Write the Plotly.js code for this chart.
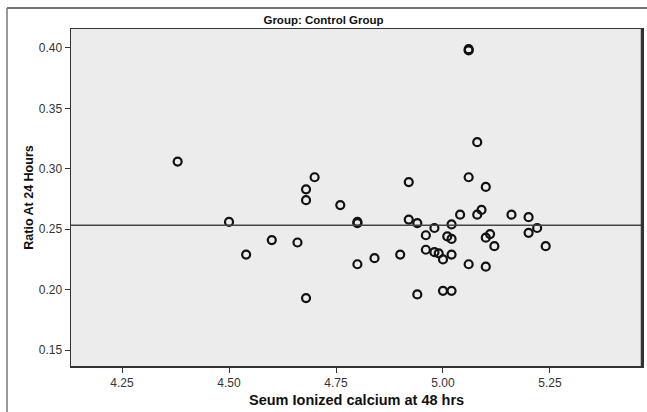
<!DOCTYPE html>
<html>
<head>
<meta charset="utf-8">
<script src="https://cdn.plot.ly/plotly-3.0.1.min.js"></script>
<style>
  html, body { margin: 0; padding: 0; background: #ffffff; }
  #chart { width: 647px; height: 412px; }
</style>
</head>
<body>
<div id="chart"></div>
<script>
// Serum ionized calcium at 48 hrs (x) vs ratio at 24 hours (y), control group
const calcium48 = [
  4.38, 4.50, 4.54, 4.60, 4.66, 4.68, 4.68, 4.68, 4.70, 4.76,
  4.80, 4.80, 4.80, 4.84, 4.90, 4.92, 4.92, 4.94, 4.94, 4.96,
  4.96, 4.98, 4.98, 4.99, 5.00, 5.00, 5.01, 5.02, 5.02, 5.02,
  5.02, 5.04, 5.06, 5.06, 5.06, 5.06, 5.08, 5.08, 5.09, 5.10,
  5.10, 5.10, 5.11, 5.12, 5.16, 5.20, 5.20, 5.22, 5.24
];
const ratio24 = [
  0.306, 0.256, 0.229, 0.241, 0.239, 0.193, 0.283, 0.274, 0.293, 0.270,
  0.256, 0.255, 0.221, 0.226, 0.229, 0.289, 0.258, 0.255, 0.196, 0.245,
  0.233, 0.251, 0.231, 0.230, 0.225, 0.199, 0.244, 0.242, 0.254, 0.229,
  0.199, 0.262, 0.293, 0.221, 0.398, 0.399, 0.262, 0.322, 0.266, 0.285,
  0.243, 0.219, 0.246, 0.236, 0.262, 0.260, 0.247, 0.251, 0.236
];
const meanRatio = 0.2533;
const xTickVals = [4.25, 4.50, 4.75, 5.00, 5.25];
const xTickText = ["4.25", "4.50", "4.75", "5.00", "5.25"];
const yTickVals = [0.15, 0.20, 0.25, 0.30, 0.35, 0.40];
const yTickText = ["0.15", "0.20", "0.25", "0.30", "0.35", "0.40"];
const chartTitle = 'Group: Control Group';
const xTitle = 'Seum Ionized calcium at 48 hrs';
const yTitle = 'Ratio At 24 Hours';

const L = 71, R = 5, T = 29, B = 46, W = 647, H = 412;
const pw = W - L - R, ph = H - T - B;
const px = v => (v - L) / pw;
const py = v => (H - B - v) / ph;

const trace = {
  type: 'scatter',
  mode: 'markers',
  x: calcium48,
  y: ratio24,
  marker: {
    symbol: 'circle-open',
    size: 8,
    color: '#111111',
    line: { color: '#111111', width: 2.2 }
  },
  hoverinfo: 'x+y'
};

const fontFam = '"Liberation Sans", Arial, sans-serif';

const layout = {
  width: W,
  height: H,
  margin: { l: L, r: R, t: T, b: B, pad: 0 },
  paper_bgcolor: '#ffffff',
  plot_bgcolor: '#ececec',
  showlegend: false,
  title: {
    text: '<b>' + chartTitle + '</b>',
    font: { family: fontFam, size: 11.5, color: '#111111' },
    x: 0.5, xref: 'container', xanchor: 'center',
    y: 1 - 20 / H, yref: 'container', yanchor: 'middle'
  },
  xaxis: {
    range: [4.1308, 5.465],
    tickvals: xTickVals,
    ticktext: xTickText,
    ticks: 'outside',
    ticklen: 5,
    tickwidth: 1,
    tickcolor: '#333333',
    tickfont: { family: fontFam, size: 12, color: '#333333' },
    showgrid: false,
    zeroline: false,
    showline: true,
    mirror: true,
    linecolor: '#333333',
    linewidth: 1.5
  },
  yaxis: {
    range: [0.1368, 0.4157],
    tickvals: yTickVals,
    ticktext: yTickText,
    ticks: 'outside',
    ticklen: 5,
    tickwidth: 1,
    tickcolor: '#333333',
    tickfont: { family: fontFam, size: 12, color: '#333333' },
    showgrid: false,
    zeroline: false,
    showline: true,
    mirror: true,
    linecolor: '#333333',
    linewidth: 1.5,
    title: {
      text: '<b>' + yTitle + '</b>',
      font: { family: fontFam, size: 12.5, color: '#111111' },
      standoff: 2
    }
  },
  annotations: [
    {
      text: '<b>' + xTitle + '</b>',
      xref: 'paper', yref: 'paper',
      x: 0.5, y: py(400),
      xanchor: 'center', yanchor: 'middle',
      showarrow: false,
      font: { family: fontFam, size: 14.5, color: '#111111' }
    }
  ],
  shapes: [
    {
      type: 'line', xref: 'paper', yref: 'y',
      x0: 0, x1: 1, y0: meanRatio, y1: meanRatio,
      line: { color: '#444444', width: 1.5 }
    },
    {
      type: 'line', xref: 'paper', yref: 'paper',
      x0: px(7), x1: px(W + 5), y0: py(8), y1: py(8),
      line: { color: '#444444', width: 1.5 }
    },
    {
      type: 'line', xref: 'paper', yref: 'paper',
      x0: px(7), x1: px(7), y0: py(8), y1: py(H + 5),
      line: { color: '#777777', width: 1.5 }
    },
    {
      type: 'line', xref: 'paper', yref: 'paper',
      x0: 1, x1: 1, y0: 0, y1: 1,
      line: { color: '#333333', width: 2.5 }
    }
  ]
};

Plotly.newPlot('chart', [trace], layout, { displayModeBar: false, staticPlot: true });
</script>
</body>
</html>
